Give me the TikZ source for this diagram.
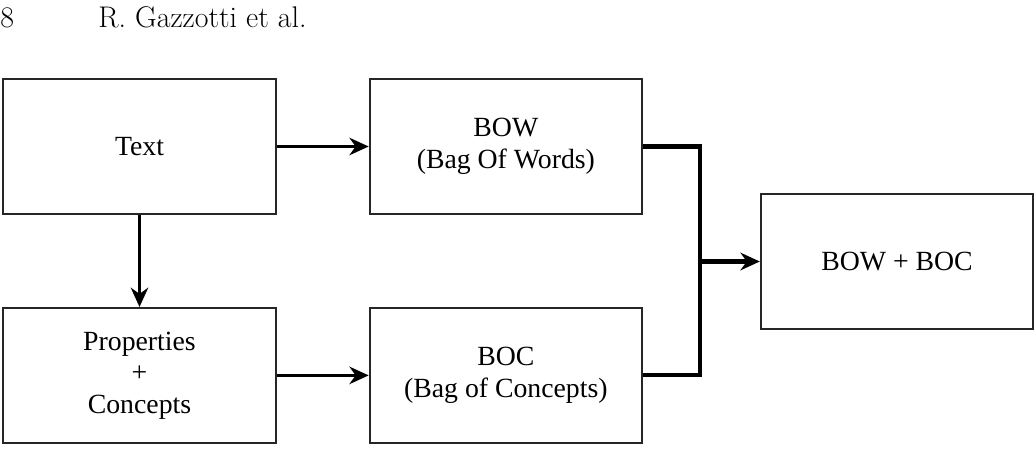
\documentclass[tikz,border=0pt]{standalone}
\usepackage{fontspec}
\newfontfamily\boxfont{Liberation Serif}
\usetikzlibrary{arrows.meta, positioning}

\begin{document}
\begin{tikzpicture}[
    x=0.02cm, y=-0.02cm,
    node distance=1.84cm,
    stage/.style={rectangle, draw=black!85, line width=1.1pt, minimum width=5.45cm, minimum height=2.7cm, align=center, font=\boxfont\fontsize{15.8}{18}\selectfont},
    arrow/.style={-{Stealth[length=11pt, width=10pt]}, line width=1.4pt},
    merge/.style={line width=2.3pt}
]
    \useasboundingbox (0,0) rectangle (1036,450);
    \node[anchor=base west, inner sep=0pt, font=\fontsize{17}{20}\selectfont] (pg) at (0,27) {8};
    \node[anchor=base west, inner sep=0pt, font=\fontsize{17}{20}\selectfont] (hd) at (98,27) {R. Gazzotti et al.};

    \node[stage] (txt) at (139.5,146.5) {Text};
    \node[stage, right=of txt] (bow) {BOW\\(Bag Of Words)};
    \node[stage, below=of txt] (prop) {Properties\\+\\Concepts};
    \node[stage, right=of prop] (boc) {BOC\\(Bag of Concepts)};
    \node[stage] (both) at (897,261.5) {BOW + BOC};

    \draw[arrow] (txt) -- (bow);
    \draw[arrow] (txt) -- (prop);
    \draw[arrow] (prop) -- (boc);

    % join of both bags
    \coordinate (jn) at (700,261.5);
    \draw[merge] (bow.east) -| (jn) |- (boc.east);
    \draw[merge, -{Stealth[length=11pt, width=10pt]}] (jn) -- (both);
\end{tikzpicture}
\end{document}
